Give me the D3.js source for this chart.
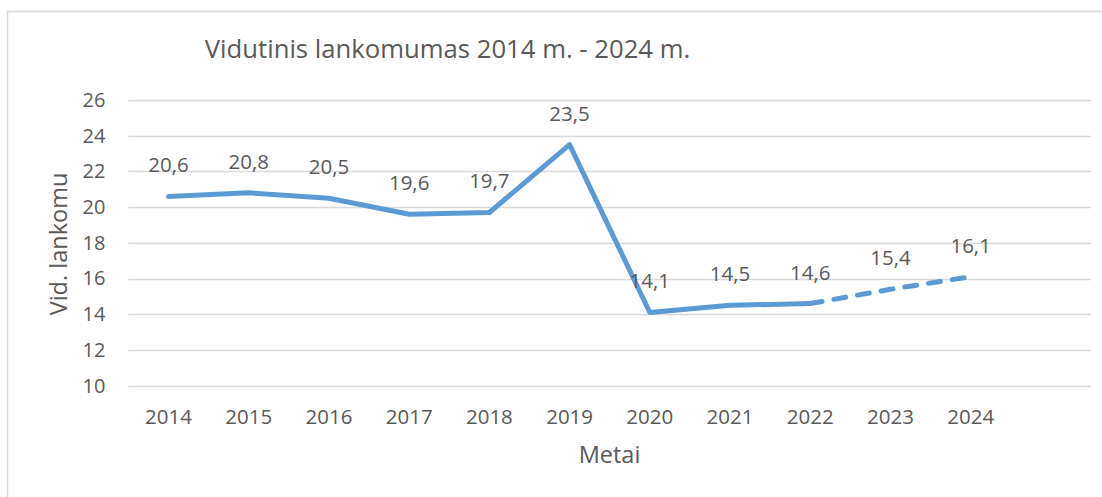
<!DOCTYPE html>
<html>
<head>
<meta charset="utf-8">
<script src="https://cdn.jsdelivr.net/npm/d3@7"></script>
<style>
  body { margin: 0; background: #fff; }
  svg text { font-family: "Open Sans", "Noto Sans", sans-serif; fill: #595959; }
</style>
</head>
<body>
<svg id="chart" width="1102" height="497"></svg>
<script>
var years = ["2014", "2015", "2016", "2017", "2018", "2019", "2020", "2021", "2022", "2023", "2024"];
var attendance = [20.6, 20.8, 20.5, 19.6, 19.7, 23.5, 14.1, 14.5, 14.6, 15.4, 16.1];
var yTicks = [10, 12, 14, 16, 18, 20, 22, 24, 26];
var dashedFrom = "2022";
var chartTitle = "Vidutinis lankomumas 2014 m. - 2024 m.";
var yTitle = "Vid. lankomu";
var xTitle = "Metai";

var svg = d3.select("#chart");

// outer frame, runs off the right and bottom edges
svg.append("rect")
    .attr("x", 7.5).attr("y", 11.5)
    .attr("width", 1200).attr("height", 600)
    .attr("fill", "none").attr("stroke", "#d9d9d9").attr("stroke-width", 1.5);

var plotLeft = 128.4, plotRight = 1091, plotTop = 100, plotBottom = 385.7;

// one empty slot at the end, like the original
var x = d3.scaleBand()
    .domain(years.concat([" "]))
    .range([plotLeft, plotRight]);

var y = d3.scaleLinear()
    .domain([10, 26])
    .range([plotBottom, plotTop]);

var cx = function(yr) { return x(yr) + x.bandwidth() / 2; };

// gridlines
svg.append("g").selectAll("line")
    .data(yTicks)
    .enter().append("line")
    .attr("x1", plotLeft).attr("x2", plotRight)
    .attr("y1", function(d) { return Math.round(y(d)) + 0.5; })
    .attr("y2", function(d) { return Math.round(y(d)) + 0.5; })
    .attr("stroke", "#d9d9d9").attr("stroke-width", 1.5);

// y axis labels
var yAxis = svg.append("g")
    .attr("transform", "translate(" + (plotLeft - 23) + ",0)")
    .call(d3.axisLeft(y).tickValues(yTicks).tickSize(0).tickPadding(0));
yAxis.select(".domain").remove();
yAxis.selectAll("text")
    .attr("font-size", 20).attr("fill", "#595959")
    .style("font-family", "'Open Sans', sans-serif");

// x axis labels
var xAxis = svg.append("g")
    .attr("transform", "translate(0," + (plotBottom + 24) + ")")
    .call(d3.axisBottom(x).tickValues(years).tickSize(0).tickPadding(0));
xAxis.select(".domain").remove();
xAxis.selectAll("text")
    .attr("font-size", 20.5).attr("fill", "#595959")
    .style("font-family", "'Open Sans', sans-serif");

// series
var pts = years.map(function(yr, i) { return { yr: yr, v: attendance[i] }; });
var cut = years.indexOf(dashedFrom);
var line = d3.line()
    .x(function(d) { return cx(d.yr); })
    .y(function(d) { return y(d.v); });

svg.append("path")
    .datum(pts.slice(0, cut + 1))
    .attr("d", line)
    .attr("fill", "none").attr("stroke", "#5b9bd5")
    .attr("stroke-width", 5).attr("stroke-linejoin", "round").attr("stroke-linecap", "round");

svg.append("path")
    .datum(pts.slice(cut))
    .attr("d", line)
    .attr("fill", "none").attr("stroke", "#5b9bd5")
    .attr("stroke-width", 5).attr("stroke-dasharray", "12,12").attr("stroke-linecap", "round");

// data labels
svg.append("g").selectAll("text")
    .data(pts)
    .enter().append("text")
    .attr("x", function(d) { return cx(d.yr); })
    .attr("y", function(d) { return y(d.v) - 24; })
    .attr("text-anchor", "middle")
    .attr("font-size", 20.5)
    .text(function(d) { return String(d.v).replace(".", ","); });

// titles
svg.append("text")
    .attr("x", 447.5).attr("y", 58)
    .attr("text-anchor", "middle").attr("font-size", 25.7)
    .text(chartTitle);

svg.append("text")
    .attr("transform", "translate(67,244) rotate(-90)")
    .attr("text-anchor", "middle").attr("font-size", 23.5)
    .text(yTitle);

svg.append("text")
    .attr("x", 609.5).attr("y", 463)
    .attr("text-anchor", "middle").attr("font-size", 23.5)
    .text(xTitle);
</script>
</body>
</html>
